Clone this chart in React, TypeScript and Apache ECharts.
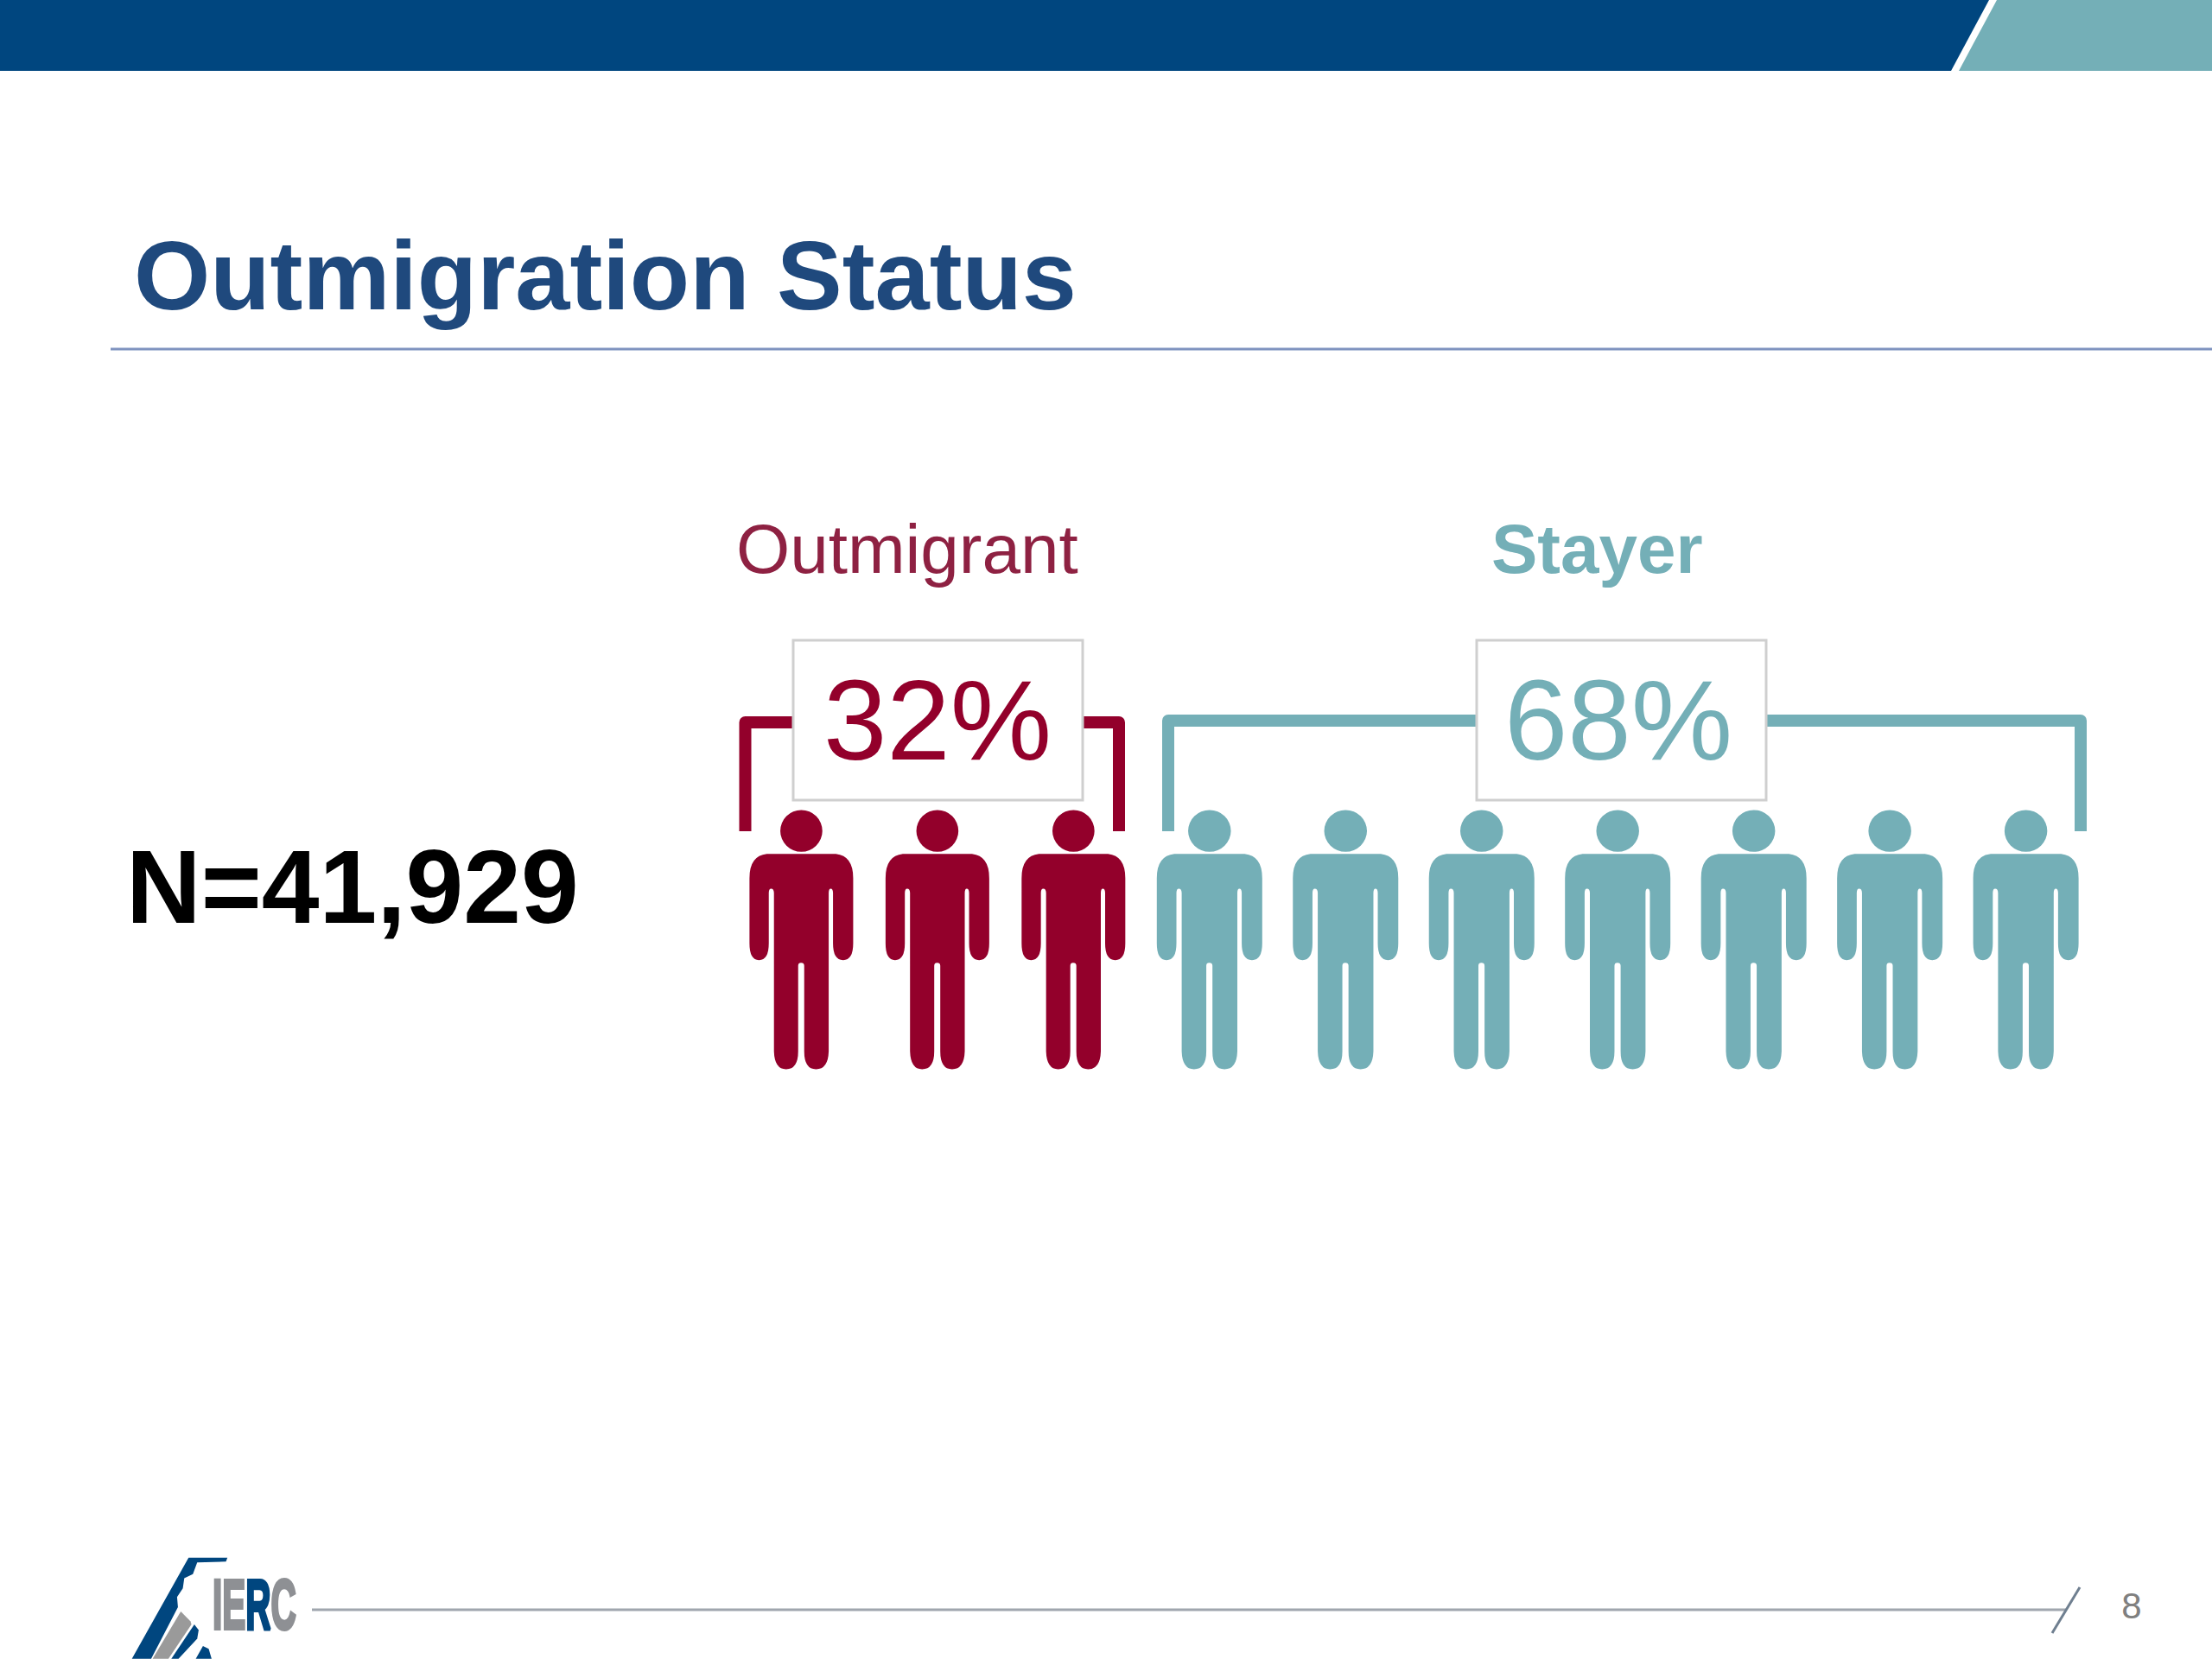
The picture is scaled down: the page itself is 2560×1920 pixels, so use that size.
import React, { useEffect, useRef } from "react";
import * as echarts from "echarts";

const groupNames = ["Outmigrant", "Stayer"];
const sharePercents = [32, 68];
const personCounts = [3, 7];
const sampleLabel = "N=41,929";
const titleText = "Outmigration Status";
const pageNumber = "8";

const RED = "#93002B";
const TEAL = "#74AFB7";
const FONT = '"Liberation Sans", Arial, sans-serif';

const PERSON =
  "path://M222 878 A73 56 0 1 1 368 878 A73 56 0 1 1 222 878 Z " +
  "M175 940 L415 940 Q475 945 475 1005 L475 1180 Q475 1225 440 1225 Q405 1225 405 1180 L405 1045 Q405 1033 397 1033 Q390 1033 390 1045 " +
  "L390 1470 Q388 1518 346 1518 Q305 1518 305 1470 L305 1240 Q305 1232 294 1232 Q284 1232 284 1240 L284 1470 Q284 1518 242 1518 Q202 1518 200 1470 " +
  "L200 1045 Q200 1033 190 1033 Q182 1033 182 1045 L182 1180 Q182 1225 148 1225 Q115 1225 115 1180 L115 1005 Q115 945 175 940 Z";

function personPositions(start: number, count: number) {
  const out: number[][] = [];
  for (let i = 0; i < count; i++) out.push([start + i, 0]);
  return out;
}

function label(text: string, x: number, y: number, size: number, fill: string, weight: any = "normal", align: any = "left") {
  return {
    type: "text",
    x,
    y,
    z: 10,
    style: { text, fill, font: `${weight} ${size}px ${FONT}`, align, verticalAlign: "middle" },
  };
}

export default function App() {
  const ref = useRef<HTMLDivElement>(null);
  useEffect(() => {
    document.body.style.margin = "0";
    const chart = echarts.init(ref.current!, null, { renderer: "svg" });
    const bracketLine = (pts: number[][], stroke: string) => ({
      type: "polyline",
      z: 2,
      shape: { points: pts },
      style: { stroke, lineWidth: 14, fill: "none", lineJoin: "round" },
    });
    const box = (x: number, width: number) => ({
      type: "rect",
      z: 3,
      shape: { x, y: 741, width, height: 185 },
      style: { fill: "#FFFFFF", stroke: "#CFCFCF", lineWidth: 3 },
    });
    chart.setOption({
      animation: false,
      backgroundColor: "#FFFFFF",
      grid: { left: 927.4, width: 1417.2, top: 1000, height: 175 },
      xAxis: { type: "value", min: 0, max: 9, show: false },
      yAxis: { type: "value", min: -1, max: 1, show: false },
      series: [
        {
          name: groupNames[0],
          type: "scatter",
          clip: false,
          symbol: PERSON,
          symbolSize: [120, 300],
          itemStyle: { color: RED, opacity: 1 },
          data: personPositions(0, personCounts[0]),
        },
        {
          name: groupNames[1],
          type: "scatter",
          clip: false,
          symbol: PERSON,
          symbolSize: [122, 300],
          itemStyle: { color: TEAL, opacity: 1 },
          data: personPositions(personCounts[0], personCounts[1]),
        },
      ],
      graphic: [
        {
          type: "polygon",
          shape: { points: [[0, 0], [2302, 0], [2258, 82], [0, 82]] },
          style: { fill: "#00467F" },
        },
        {
          type: "polygon",
          shape: { points: [[2311, 0], [2560, 0], [2560, 82], [2267, 82]] },
          style: { fill: TEAL },
        },
        label(titleText, 155, 318, 113.5, "#1F497D", "bold"),
        {
          type: "line",
          shape: { x1: 128, y1: 404, x2: 2560, y2: 404 },
          style: { stroke: "#7F93BF", lineWidth: 3 },
        },
        label(sampleLabel, 146, 1026, 120, "#000000", "bold"),
        label(groupNames[0], 852, 635, 80, "#8E2142"),
        label(groupNames[1], 1726, 635, 80, TEAL, "bold"),
        bracketLine([[862.5, 962], [862.5, 836], [1295, 836], [1295, 962]], RED),
        bracketLine([[1352, 962], [1352, 834], [2408, 834], [2408, 962]], TEAL),
        box(918, 335),
        box(1709, 335),
        label(`${sharePercents[0]}%`, 1085, 833, 132, RED, "normal", "center"),
        label(`${sharePercents[1]}%`, 1873, 833, 132, TEAL, "normal", "center"),
        {
          type: "line",
          shape: { x1: 361, y1: 1863, x2: 2392, y2: 1863 },
          style: { stroke: "#A0A6AE", lineWidth: 3 },
        },
        {
          type: "line",
          shape: { x1: 2407, y1: 1837, x2: 2375, y2: 1890 },
          style: { stroke: "#6F7F90", lineWidth: 3 },
        },
        label(pageNumber, 2467, 1858, 42, "#808080", "normal", "center"),
        {
          type: "group",
          x: 130,
          y: 1780,
          scaleX: 1 / 3,
          scaleY: 1 / 3,
          children: [
            {
              type: "polygon",
              shape: { points: [[265, 68], [400, 68], [395, 82], [295, 85], [280, 125], [250, 140], [245, 175], [225, 205], [228, 240], [135, 420], [68, 420]] },
              style: { fill: "#00467F" },
            },
            {
              type: "polygon",
              shape: { points: [[238, 255], [272, 290], [275, 300], [195, 420], [140, 420]] },
              style: { fill: "#9A9A9A" },
            },
            {
              type: "polygon",
              shape: { points: [[285, 300], [300, 320], [295, 350], [230, 420], [205, 420]] },
              style: { fill: "#00467F" },
            },
            {
              type: "polygon",
              shape: { points: [[315, 375], [335, 385], [345, 420], [290, 420]] },
              style: { fill: "#00467F" },
            },
          ],
        },
        {
          type: "text",
          x: 246,
          y: 1857,
          scaleX: 0.5,
          style: {
            text: "{g|IE}{b|R}{g|C}",
            verticalAlign: "middle",
            rich: {
              g: { fill: "#8E9094", stroke: "#8E9094", lineWidth: 4, font: `bold 81px ${FONT}` },
              b: { fill: "#00467F", stroke: "#00467F", lineWidth: 4, font: `bold 81px ${FONT}` },
            },
          },
        },
      ],
    });
    return () => chart.dispose();
  }, []);
  return <div ref={ref} style={{ position: "absolute", left: 0, top: 0, width: 2560, height: 1920 }} />;
}
